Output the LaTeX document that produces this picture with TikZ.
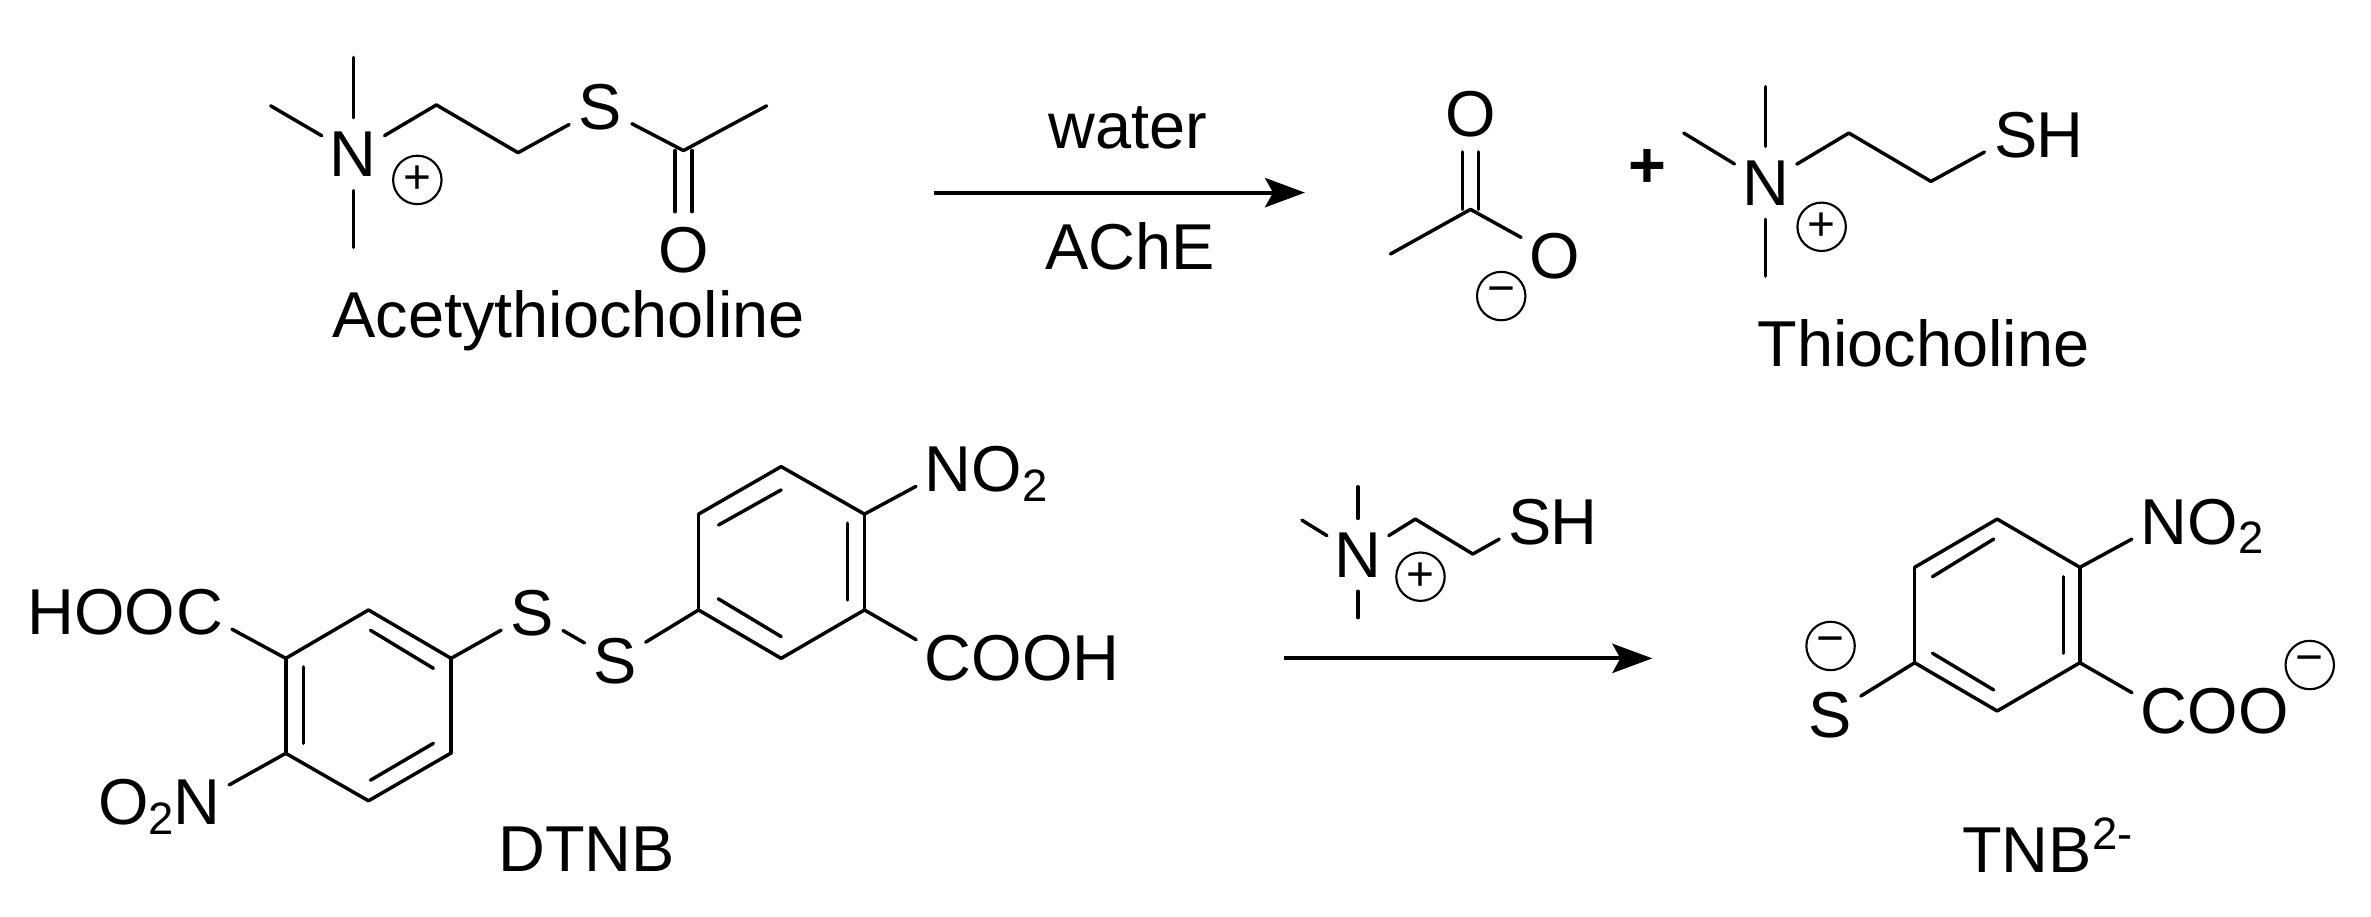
\documentclass[tikz,border=0pt]{standalone}
\usepackage{fontspec}
\setmainfont{Liberation Sans}
\usetikzlibrary{arrows.meta}
\tikzset{
	every node/.style={font=\fontsize{12.2}{14}\selectfont},
	bond/.style={line width=.65pt,line cap=round},
	atom/.style={circle,inner sep=.4pt,anchor=base},
	lab/.style={inner sep=0pt,anchor=base},
	labw/.style={inner sep=0pt,anchor=base west},
	labe/.style={inner sep=0pt,anchor=base east},
	chg/.style={circle,draw,line width=.4pt,inner sep=0pt,minimum size=.32cm,font=\fontsize{9}{9}\selectfont},
	rxn/.style={line width=.75pt,-{Stealth[length=7.5pt,width=5.5pt,inset=1.5pt]}}
}
\begin{document}
\begin{tikzpicture}[x=.01cm,y=-.01cm]
	\useasboundingbox (0,0) rectangle (1568,606.4);
	% atoms
	\foreach \name/\x/\y/\txt in {n1/233.6/116.7/N,
							s1/397/85.7/S,
							o1/452/180/O,
							o2/972.5/90/O,
							o3/1028/184/O,
							n2/1167.6/135.7/N,
							s2/1333/104/S,
							n3/627/325/N,
							c1/627/450/C,
							s3/351.9/420/S,
							s4/406.9/451.7/S,
							c2/132/419.3/C,
							n4/130.5/545.6/N,
							n5/898/381.7/N,
							s5/1012/359.8/S,
							n6/1431/359.8/N,
							c3/1431/485/C,
							s6/1210.6/487.5/S}
	\node[atom] (\name) at (\x,\y) {\txt};
	% the rest of the groups
	\node[labw] (h2) at (1346,104) {H};
	\node[labw] (o2r) at (642,325) {O\textsubscript{2}};
	\node[labw] (ooh) at (642,450) {OOH};
	\node[labe] (hoo) at (116.6,419.3) {HOO};
	\node[labe] (o2l) at (117.5,545.6) {O\textsubscript{2}};
	\node[labw] (h5) at (1025,359.8) {H};
	\node[labw] (o2t) at (1446,359.8) {O\textsubscript{2}};
	\node[labw] (oot) at (1446,485) {OO};
	% carbons and free ends
	\foreach \name/\x/\y in {m1/233.6/38,m2/179/70,m3/233.6/163.6,
							k1/288.6/69.4,k2/342.6/101,k3/452/99.6,k4/507/70,
							k5/972.5/138.5,k6/919.5/168,
							m4/1167.6/57.3,m5/1113.5/88,m6/1167.6/182.6,
							k7/1222.7/88,k8/1277/120,
							a1/516.6/308.6,a2/571.7/340,a3/571.7/403.4,a4/516.6/435.4,a5/462/403.4,a6/462/340,
							b1/243.7/403.4,b2/298.3/435.4,b3/298.3/498,b4/243.7/529.6,b5/189/498.2,b6/189/435.4,
							m7/898/321.9,m8/861/344,m9/898/408.5,
							k9/936/343.3,k10/974/366.4,
							t1/1320.8/343.3,t2/1375.5/375.2,t3/1375.5/438.3,t4/1320.8/470.2,t5/1266.2/438.3,t6/1266.2/375.2,
							arr1/617.5/127.4,arr2/863/127.4,arr3/849/435.4,arr4/1092.7/435.4}
	\coordinate (\name) at (\x,\y);
	% single bonds
	\foreach \p/\q in {m1/n1,m2/n1,m3/n1,n1/k1,k1/k2,k2/s1,s1/k3,k3/k4,
						k5/o3,k5/k6,
						m4/n2,m5/n2,m6/n2,n2/k7,k7/k8,k8/s2,
						a1/a2,a2/a3,a3/a4,a4/a5,a5/a6,a6/a1,a2/n3,a3/c1,a5/s4,s3/s4,s3/b2,
						b1/b2,b2/b3,b3/b4,b4/b5,b5/b6,b6/b1,b6/c2,b5/n4,
						m7/n5,m8/n5,m9/n5,n5/k9,k9/k10,k10/s5,
						t1/t2,t2/t3,t3/t4,t4/t5,t5/t6,t6/t1,t2/n6,t3/c3,t5/s6}
	\draw[bond] (\p) -- (\q);
	% C=O
	\foreach \d in {-5.6,5.6}
		\draw[bond] ([xshift=\d*.01cm]k3) -- ([xshift=\d*.01cm]o1.north);
	\foreach \d in {-5.2,5.2}
		\draw[bond] ([xshift=\d*.01cm]k5) -- ([xshift=\d*.01cm]o2.south);
	% inner ring lines
	\foreach \x/\y/\u/\v in {475.2/347.2/516.6/324,
							560.5/346/560.5/396.8,
							475/396/516.6/421,
							200.8/441/200.8/491.6,
							245/416.8/286.6/442,
							245/516/286.6/491.6,
							1278/381.4/1318.5/356.5,
							1364.5/381.4/1364.5/432,
							1278/432/1318.5/456.3}
	\draw[bond] (\x,\y) -- (\u,\v);
	% charges
	\foreach \name/\x/\y/\txt in {p1/276/119/+,
							p2/1204.7/150/+,
							p3/939.4/381.4/+,
							q1/992.8/195.8/−,
							q2/1210.6/427.2/−,
							q3/1527.5/439.8/−}
	\node[chg] (\name) at (\x,\y) {\txt};
	\node (plus) at (1089.7,111.3) {\bfseries +};
	% reactions
	\draw[rxn] (arr1) -- (arr2);
	\draw[rxn] (arr3) -- (arr4);
	\node[lab] (water) at (746,98.5) {water};
	\node[lab] (ache) at (747.5,178) {AChE};
	\node[lab] (atc) at (376,223) {Acetythiocholine};
	\node[lab] (tch) at (1272,242.5) {Thiocholine};
	\node[lab] (dtnb) at (388,576.5) {DTNB};
	\node[labw] (tnb) at (1297,577) {TNB\textsuperscript{2-}};
\end{tikzpicture}
\end{document}
